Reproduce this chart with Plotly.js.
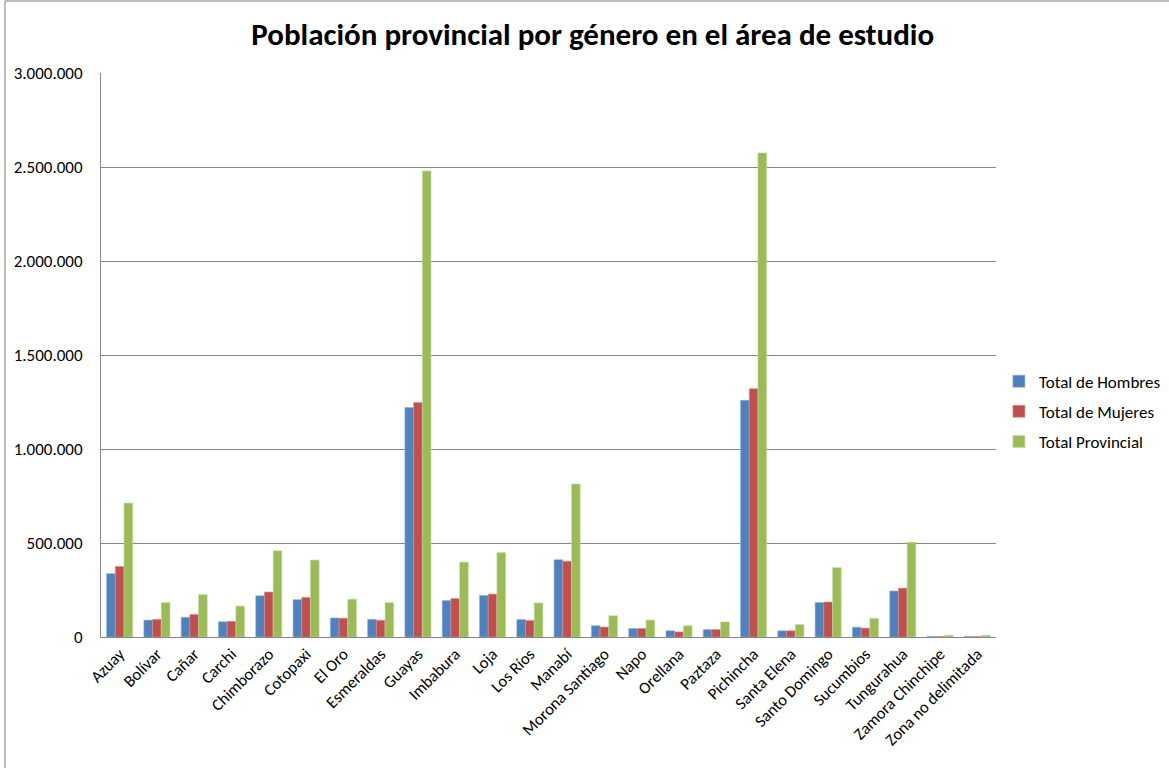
<!DOCTYPE html>
<html>
<head>
<meta charset="utf-8">
<script src="https://cdn.plot.ly/plotly-3.0.1.min.js"></script>
<style>
html,body{margin:0;padding:0;background:#fff;}
#chart{width:1169px;height:768px;}
</style>
</head>
<body>
<div id="chart"></div>
<script>
const provincias = ["Azuay","Bolívar","Cañar","Carchi","Chimborazo","Cotopaxi","El Oro","Esmeraldas","Guayas","Imbabura","Loja","Los Ríos","Manabí","Morona Santiago","Napo","Orellana","Paztaza","Pichincha","Santa Elena","Santo Domingo","Sucumbios","Tungurahua","Zamora Chinchipe","Zona no delimitada"];
const hombres = [337044, 89875, 105235, 81155, 219401, 198625, 101000, 94000, 1221000, 193664, 220794, 93000, 411000, 60000, 45000, 33000, 40000, 1259000, 33000, 183058, 52000, 244783, 3000, 3000];
const mujeres = [375083, 93766, 119949, 83369, 239180, 210580, 100000, 89000, 1248000, 204580, 228172, 88000, 403000, 53000, 45000, 27000, 40000, 1321000, 33000, 185955, 47000, 259800, 3000, 3000];
const totalProv = [712127, 183641, 225184, 164524, 458581, 409205, 201000, 183000, 2479000, 398244, 448966, 181000, 814000, 113000, 90000, 60000, 80000, 2575000, 66000, 369013, 99000, 504583, 9000, 9000];

const seriesNames = ["Total de Hombres","Total de Mujeres","Total Provincial"];
const seriesColors = ["#4F81BD","#C0504D","#9BBB59"];
const seriesLines = ["#8eb0da","#dc8d8b","#c4dba0"];
const seriesData = [hombres, mujeres, totalProv];

const font = "Carlito, Lato, 'Open Sans', sans-serif";

const traces = seriesData.map((vals, i) => ({
  type: "bar",
  name: seriesNames[i],
  x: provincias,
  y: vals,
  legendgroup: "g" + i,
  marker: {color: seriesColors[i], line: {color: seriesLines[i], width: 0.6}},
  hoverinfo: "x+y+name"
}));

const layout = {
  width: 1169,
  height: 768,
  separators: ",.",
  paper_bgcolor: "#ffffff",
  plot_bgcolor: "#ffffff",
  margin: {l: 101, r: 173, t: 73, b: 131},
  barmode: "group",
  bargap: 0.3,
  bargroupgap: 0,
  font: {family: font, size: 17, color: "#000"},
  title: {
    text: "<b>Población provincial por género en el área de estudio</b>",
    font: {family: font, size: 31, color: "#000"},
    xref: "container", x: 0.507, xanchor: "center",
    yref: "container", y: 0.955, yanchor: "middle"
  },
  xaxis: {
    type: "category",
    tickangle: -45,
    tickfont: {family: font, size: 16.5, color: "#000"},
    showline: true, linecolor: "#868686", linewidth: 1,
    ticks: "", showgrid: false, automargin: false
  },
  yaxis: {
    range: [0, 3000000],
    dtick: 500000,
    tick0: 0,
    tickformat: ",.0f",
    tickfont: {family: font, size: 17, color: "#000"},
    showline: true, linecolor: "#868686", linewidth: 1,
    showgrid: true, gridcolor: "#868686", gridwidth: 1,
    zeroline: false, ticks: "", ticklabelstandoff: 14,
    automargin: false
  },
  legend: {
    xref: "container", yref: "container",
    x: 0.8545, xanchor: "left",
    y: 0.464, yanchor: "middle",
    font: {family: font, size: 17, color: "#000"},
    tracegroupgap: 5,
    itemwidth: 30,
    bgcolor: "rgba(0,0,0,0)"
  },
  shapes: [
    {type: "line", xref: "paper", yref: "paper", x0: -0.1073, x1: -0.1073, y0: 1.1277, y1: -0.25, line: {color: "#a6a6a6", width: 1.5}},
    {type: "line", xref: "paper", yref: "paper", x0: -0.1073, x1: 1.2, y0: 1.1277, y1: 1.1277, line: {color: "#a6a6a6", width: 1.5}}
  ],
  showlegend: true
};

Plotly.newPlot("chart", traces, layout, {displayModeBar: false, staticPlot: true});
</script>
</body>
</html>
